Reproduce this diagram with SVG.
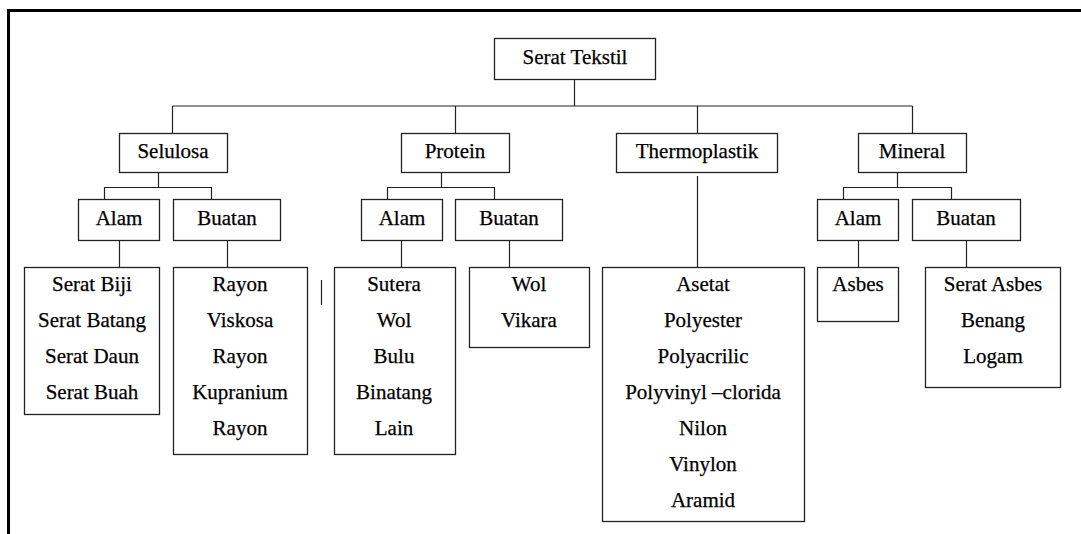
<svg xmlns="http://www.w3.org/2000/svg" width="1081" height="534" viewBox="0 0 1081 534">
<style>
.bx{fill:#fff;stroke:#222;stroke-width:1.3}
.ln{stroke:#222;stroke-width:1.2;fill:none}
.fr{stroke:#000;stroke-width:3;fill:none}
text{font-family:"Liberation Serif","Times New Roman",serif;font-size:21px;fill:#000;stroke:#000;stroke-width:0.25;text-anchor:middle}
</style>
<rect width="1081" height="534" fill="#fff"/>
<path class="fr" d="M8.5,534 V10.5 H1081"/>
<g id="connectors">
<path class="ln" d="M574.5,79 V106 M172.5,106 H912.5 M172.5,106 V133 M455.5,106 V133 M697.5,106 V133 M912.5,106 V133"/>
<path class="ln" d="M158.5,172 V187.5 M104.5,187.5 H211.5 M104.5,187 V199 M211.5,187 V199 M119.5,240 V267 M227.5,240 V267"/>
<path class="ln" d="M441.5,172 V187.5 M387.5,187.5 H494.5 M387.5,187 V199 M494.5,187 V199 M401.5,240 V267 M509.5,240 V267"/>
<path class="ln" d="M697.5,176 V267"/>
<path class="ln" d="M897.5,172 V187.5 M843.5,187.5 H951.5 M843.5,187 V199 M951.5,187 V199 M858.5,240 V267 M966.5,240 V267"/>
<path class="ln" d="M321.5,280 V305"/>
</g>
<g id="serat-tekstil"><rect class="bx" x="494.5" y="38.5" width="161" height="41"/><text x="575" y="64">Serat Tekstil</text></g>
<g id="selulosa"><rect class="bx" x="119.5" y="133.5" width="108" height="39"/><text x="173" y="158">Selulosa</text></g>
<g id="protein"><rect class="bx" x="401.5" y="133.5" width="108" height="39"/><text x="455" y="158">Protein</text></g>
<g id="thermoplastik"><rect class="bx" x="616.5" y="133.5" width="161" height="39"/><text x="697" y="158">Thermoplastik</text></g>
<g id="mineral"><rect class="bx" x="858.5" y="133.5" width="108" height="39"/><text x="912" y="158">Mineral</text></g>
<g id="selulosa-alam"><rect class="bx" x="78.5" y="199.5" width="81" height="41"/><text x="119" y="225">Alam</text></g>
<g id="selulosa-buatan"><rect class="bx" x="173.5" y="199.5" width="107" height="41"/><text x="227" y="225">Buatan</text></g>
<g id="protein-alam"><rect class="bx" x="361.5" y="199.5" width="81" height="41"/><text x="402" y="225">Alam</text></g>
<g id="protein-buatan"><rect class="bx" x="455.5" y="199.5" width="107" height="41"/><text x="509" y="225">Buatan</text></g>
<g id="mineral-alam"><rect class="bx" x="817.5" y="199.5" width="81" height="41"/><text x="858" y="225">Alam</text></g>
<g id="mineral-buatan"><rect class="bx" x="912.5" y="199.5" width="108" height="41"/><text x="966" y="225">Buatan</text></g>
<g id="selulosa-alam-list"><rect class="bx" x="24.5" y="267.5" width="135" height="147"/>
<text x="92" y="291">Serat Biji</text><text x="92" y="327">Serat Batang</text><text x="92" y="363">Serat Daun</text><text x="92" y="399">Serat Buah</text></g>
<g id="selulosa-buatan-list"><rect class="bx" x="173.5" y="267.5" width="134" height="187"/>
<text x="240" y="291">Rayon</text><text x="240" y="327">Viskosa</text><text x="240" y="363">Rayon</text><text x="240" y="399">Kupranium</text><text x="240" y="435">Rayon</text></g>
<g id="protein-alam-list"><rect class="bx" x="334.5" y="267.5" width="121" height="187"/>
<text x="394" y="291">Sutera</text><text x="394" y="327">Wol</text><text x="394" y="363">Bulu</text><text x="394" y="399">Binatang</text><text x="394" y="435">Lain</text></g>
<g id="protein-buatan-list"><rect class="bx" x="469.5" y="267.5" width="120" height="80"/>
<text x="529" y="291">Wol</text><text x="529" y="327">Vikara</text></g>
<g id="thermoplastik-list"><rect class="bx" x="602.5" y="267.5" width="202" height="254"/>
<text x="703" y="291">Asetat</text><text x="703" y="327">Polyester</text><text x="703" y="363">Polyacrilic</text><text x="703" y="399">Polyvinyl –clorida</text><text x="703" y="435">Nilon</text><text x="703" y="471">Vinylon</text><text x="703" y="507">Aramid</text></g>
<g id="mineral-alam-list"><rect class="bx" x="817.5" y="267.5" width="81" height="54"/>
<text x="858" y="291">Asbes</text></g>
<g id="mineral-buatan-list"><rect class="bx" x="925.5" y="267.5" width="135" height="120"/>
<text x="993" y="291">Serat Asbes</text><text x="993" y="327">Benang</text><text x="993" y="363">Logam</text></g>
</svg>
